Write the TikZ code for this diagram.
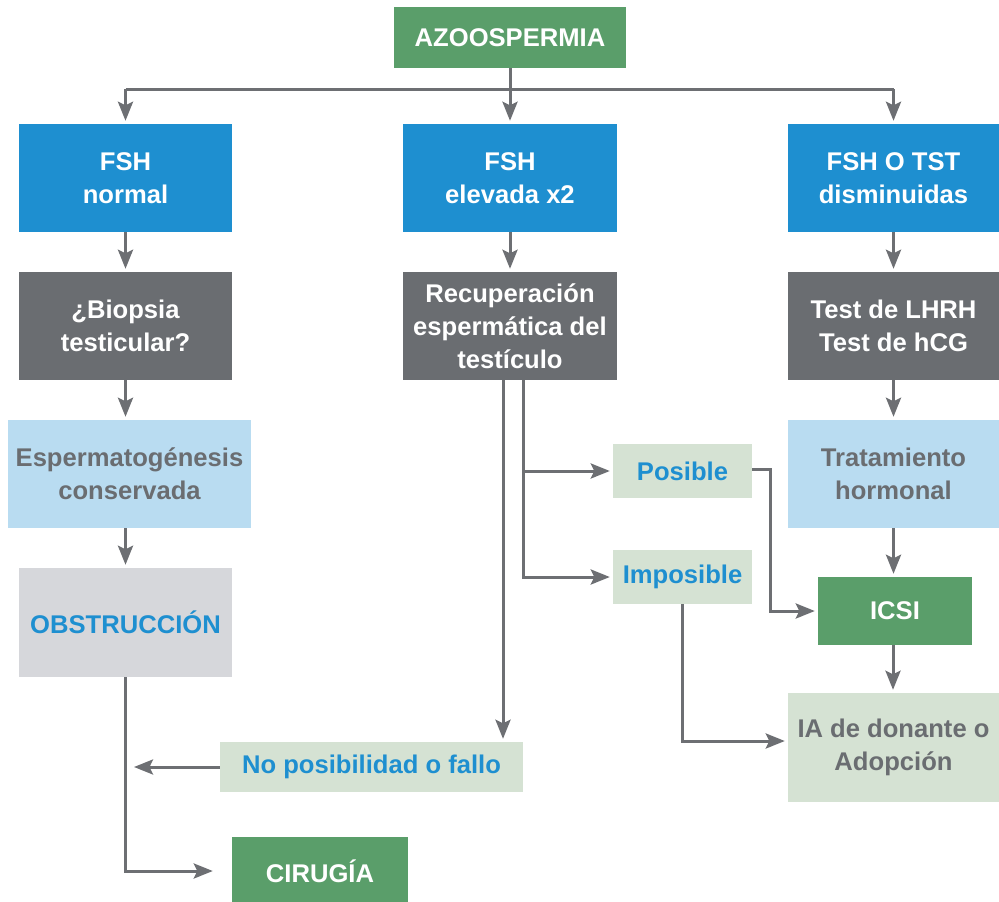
\documentclass[tikz,border=0pt]{standalone}
\usepackage{fontspec}
\setmainfont{Liberation Sans}
\usetikzlibrary{arrows.meta}
\definecolor{cgreen}{HTML}{5A9E6A}
\definecolor{cblue}{HTML}{1E8FD0}
\definecolor{cdark}{HTML}{6A6D71}
\definecolor{clblue}{HTML}{B9DCF1}
\definecolor{clgreen}{HTML}{D5E2D3}
\definecolor{clgray}{HTML}{D6D7DB}
\definecolor{cline}{HTML}{6D6F73}
\definecolor{ctext}{HTML}{6A6D71}
\tikzset{
  box/.style={rectangle, inner sep=0pt, align=center, font=\bfseries\fontsize{25.6}{33}\selectfont},
  greenbox/.style={box, fill=cgreen, text=white},
  bluebox/.style={box, fill=cblue, text=white},
  darkbox/.style={box, fill=cdark, text=white},
  lbluebox/.style={box, fill=clblue, text=ctext},
  lgreenbox/.style={box, fill=clgreen, text=ctext},
  lgreenblue/.style={box, fill=clgreen, text=cblue},
  lgraybox/.style={box, fill=clgray, text=cblue},
  conn/.style={draw=cline, line width=3pt},
  arr/.style={conn, -{Stealth[length=19pt, width=15pt, inset=3.5pt]}, shorten >=3pt},
}
\begin{document}
\begin{tikzpicture}[x=1pt, y=-1pt]
\useasboundingbox (0,0) rectangle (999,902);
% nodes
\node[greenbox, minimum width=232pt, minimum height=61pt] (azo) at (510,37.5) {AZOOSPERMIA};
\node[bluebox, minimum width=213pt, minimum height=108pt] (fsh1) at (125.5,178) {FSH\\normal};
\node[bluebox, minimum width=214pt, minimum height=108pt] (fsh2) at (510,178) {FSH\\elevada x2};
\node[bluebox, minimum width=211pt, minimum height=108pt] (fsh3) at (893.5,178) {FSH O TST\\disminuidas};
\node[darkbox, minimum width=213pt, minimum height=108pt] (bio) at (125.5,326) {¿Biopsia\\testicular?};
\node[darkbox, minimum width=214pt, minimum height=108pt] (rec) at (510,326) {Recuperación\\espermática del\\testículo};
\node[darkbox, minimum width=211pt, minimum height=108pt] (test) at (893.5,326) {Test de LHRH\\Test de hCG};
\node[lbluebox, minimum width=243pt, minimum height=108pt] (esp) at (129.5,474) {Espermatogénesis\\conservada};
\node[lbluebox, minimum width=211pt, minimum height=108pt] (trat) at (893.5,474) {Tratamiento\\hormonal};
\node[lgreenblue, minimum width=139pt, minimum height=54pt] (pos) at (682.5,471) {Posible};
\node[lgreenblue, minimum width=139pt, minimum height=54pt] (imp) at (682.5,577) {Imposible};
\node[lgraybox, minimum width=213pt, minimum height=109pt] (obs) at (125.5,622.5) {OBSTRUCCIÓN};
\node[greenbox, minimum width=154pt, minimum height=68pt] (icsi) at (895,611) {ICSI};
\node[lgreenbox, minimum width=211pt, minimum height=109pt] (ia) at (893.5,747.5) {IA de donante o\\Adopción};
\node[lgreenblue, minimum width=303pt, minimum height=50pt] (nop) at (371.5,767) {No posibilidad o fallo};
\node[greenbox, minimum width=176pt, minimum height=68pt] (cir) at (320,871) {CIRUGÍA};
\coordinate (bus) at (510,89);
\coordinate (nopend) at (131,767);
% connectors
\draw[arr] (azo.south) -- (fsh2.north);
\draw[conn] (fsh1.north|-bus) -- (fsh3.north|-bus);
\draw[arr] (fsh1.north|-bus) -- (fsh1.north);
\draw[arr] (fsh3.north|-bus) -- (fsh3.north);
\draw[arr] (fsh1.south) -- (bio.north);
\draw[arr] (fsh2.south) -- (rec.north);
\draw[arr] (fsh3.south) -- (test.north);
\draw[arr] (bio.south) -- (bio.south|-esp.north);
\draw[arr] (test.south) -- (trat.north);
\draw[arr] (bio.south|-esp.south) -- (obs.north);
\draw[arr] (obs.south) |- ([xshift=-16pt]cir.west);
\draw[arr] (nop.west) -- (nopend);
\draw[arr] ([xshift=-7pt]rec.south) -- ([xshift=-7pt]rec.south|-nop.north);
\draw[arr] ([xshift=13pt]rec.south) |- (imp.west);
\draw[arr] ([xshift=13pt]rec.south|-pos.west) -- (pos.west);
\draw[arr] ([yshift=2pt]pos.east) -- ++(18,0) |- (icsi.west);
\draw[arr] (imp.south) |- ([yshift=6.5pt]ia.west);
\draw[arr] (trat.south) -- (trat.south|-icsi.north);
\draw[arr] ([xshift=-2pt]icsi.south) -- ([xshift=-2pt]icsi.south|-ia.north);
\end{tikzpicture}
\end{document}
